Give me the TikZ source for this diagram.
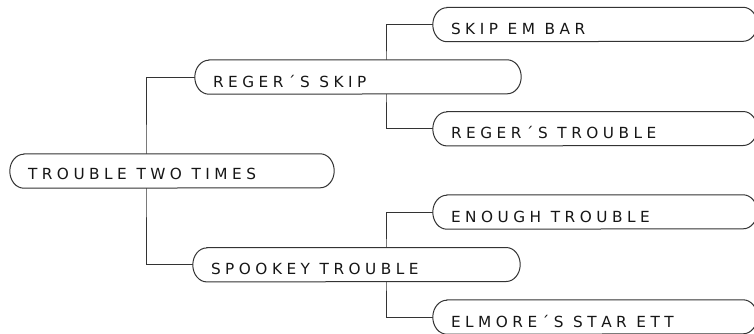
\documentclass[tikz,border=0pt]{standalone}
\usepackage{fontspec}
\newfontfamily\lblfont{DejaVu Sans}
\definecolor{ink}{HTML}{161616}
\definecolor{edge}{HTML}{333333}
\ExplSyntaxOn
\cs_new_protected:Npn \lw #1 { \tl_map_inline:nn {#1} { ##1 \kern 4.5pt } }
\ExplSyntaxOff
\pgfdeclarelayer{bg}
\pgfsetlayers{bg,main}
\newcommand\capout[1]{%
  \path[outline] ([xshift=14pt]#1.north west) -- ([xshift=-14pt]#1.north east)
    arc[start angle=90,end angle=-90,x radius=14pt,y radius=17pt]
    -- ([xshift=14pt]#1.south west)
    arc[start angle=270,end angle=90,x radius=14pt,y radius=17pt] -- cycle;}
\begin{document}
\begin{tikzpicture}[x=1pt,y=-1pt,
  capsule/.style={minimum height=34pt, inner sep=0pt, text height=20pt, text depth=0pt,
    align=left, font=\lblfont\fontsize{15.3}{18}\selectfont, text=ink},
  link/.style={draw=edge, line width=1pt},
  outline/.style={draw=edge, line width=1pt, fill=white}]
\useasboundingbox (0,0) rectangle (754,333);
\clip (0,0) rectangle (754,333);
\node[capsule, text height=17pt, minimum width=324pt, text width=288pt] (root) at (172,171) {\lw{TROUBLE} \lw{TWO} \lw{TIMES}};
\node[capsule, minimum width=326pt, text width=290pt] (regskip) at (358,77) {\lw{REGER´S} \lw{SKIP}};
\node[capsule, minimum width=327pt, text width=291pt] (spookey) at (356.5,264.7) {\lw{SPOOKEY} \lw{TROUBLE}};
\node[capsule, minimum width=324pt, text width=288pt] (skipem) at (595,24.5) {\lw{SKIP} \lw{EM} \lw{BAR}};
\node[capsule, minimum width=324pt, text width=288pt] (regtrouble) at (595,128.7) {\lw{REGER´S} \lw{TROUBLE}};
\node[capsule, minimum width=324pt, text width=288pt] (enough) at (595,212) {\lw{ENOUGH} \lw{TROUBLE}};
\node[capsule, minimum width=324pt, text width=288pt] (elmore) at (595,317) {\lw{ELMORE´S} \lw{STAR} \lw{ETT}};
\coordinate (t0) at (146,0);
\coordinate (t1) at (386,0);
\begin{pgfonlayer}{bg}
\draw[link] (regskip.west) -| (t0 |- root) |- (spookey.west);
\draw[link] (skipem.west) -| (t1 |- regskip) |- (regtrouble.west);
\draw[link] (enough.west) -| (t1 |- spookey) |- (elmore.west);
\capout{root}
\capout{regskip}
\capout{spookey}
\capout{skipem}
\capout{regtrouble}
\capout{enough}
\capout{elmore}
\end{pgfonlayer}
\end{tikzpicture}
\end{document}
